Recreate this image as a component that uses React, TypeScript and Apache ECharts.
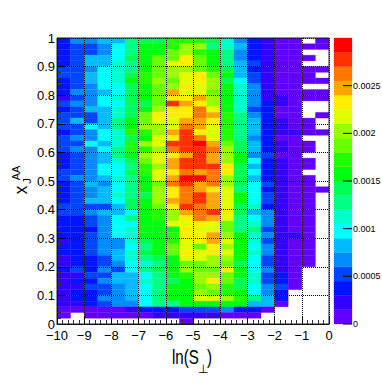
import React, { useEffect, useRef } from "react";
import * as echarts from "echarts";

const _ = null;
// bin contents in units of 1e-5, top row (x_J 0.98-1) first, ln(S) -10 .. 0 left to right
const binContents: (number | null)[][] = [
  [37,67,67,82,82,127,142,142,172,172,172,142,112,67,37,22,7,7,_,7],
  [37,52,52,67,97,127,157,157,172,202,202,127,112,82,37,22,7,7,7,7],
  [37,52,52,67,97,127,157,157,187,202,172,157,127,67,37,22,7,7,_,_],
  [37,52,82,82,97,142,157,187,187,232,187,157,127,67,37,22,7,7,7,_],
  [37,52,82,82,112,127,157,187,217,232,187,157,127,82,52,22,7,7,_,_],
  [52,52,67,97,112,127,157,187,202,202,187,172,142,82,37,22,7,7,7,7],
  [52,52,82,97,112,142,172,187,202,217,232,187,157,82,52,22,7,7,7,_],
  [37,52,82,97,112,157,172,202,187,217,232,202,142,97,52,22,7,7,7,7],
  [37,52,67,97,97,142,157,187,202,232,217,202,157,112,67,22,7,7,_,_],
  [37,67,67,82,97,142,157,187,247,217,217,187,157,112,67,22,7,7,7,7],
  [22,52,67,97,112,142,157,187,232,232,247,202,157,112,67,22,22,7,7,7],
  [52,67,67,97,97,142,142,187,277,247,232,202,157,112,67,37,22,7,_,_],
  [37,52,82,82,112,142,157,202,232,232,262,217,157,112,52,37,7,7,_,_],
  [52,52,52,82,112,142,187,232,232,232,262,247,172,127,67,37,7,7,_,7],
  [52,82,52,82,127,157,187,217,217,247,247,232,172,127,82,37,22,7,7,_],
  [52,52,97,82,127,157,202,202,217,262,247,217,172,127,82,37,22,7,7,_],
  [37,52,67,97,112,172,172,202,247,277,232,217,172,127,82,37,22,22,7,7],
  [52,67,67,97,112,142,157,217,232,277,262,217,172,127,67,37,7,7,_,_],
  [52,52,97,82,112,172,202,217,277,277,292,247,187,142,82,37,22,7,7,_],
  [52,67,67,97,127,172,172,202,262,277,277,262,202,142,82,37,22,7,7,_],
  [37,52,67,82,127,157,202,217,232,247,277,247,202,157,67,52,7,7,_,_],
  [37,52,67,82,112,142,187,217,247,277,277,247,202,157,97,37,22,7,7,_],
  [37,52,67,97,97,127,172,202,247,277,277,277,232,142,82,37,22,7,7,_],
  [52,52,67,97,97,142,172,217,232,262,247,262,232,142,97,37,22,7,_,_],
  [52,67,67,82,112,127,157,217,247,292,292,262,202,142,82,37,22,7,7,_],
  [37,52,82,67,97,127,157,187,262,277,247,262,202,142,97,52,22,7,7,_],
  [37,52,67,82,97,127,157,202,232,262,247,232,217,127,97,37,22,7,7,7],
  [37,52,67,82,112,127,142,202,232,262,277,247,217,157,97,52,22,7,7,_],
  [37,52,82,82,97,142,157,202,247,262,277,247,217,157,97,52,22,7,7,_],
  [52,52,52,52,82,142,157,187,232,277,262,247,217,142,112,37,22,7,7,_],
  [52,52,67,82,82,97,157,172,202,247,262,277,232,142,82,67,22,7,7,_],
  [37,37,52,67,97,127,157,172,202,232,262,247,217,127,97,67,22,7,7,_],
  [37,37,52,67,97,97,157,157,217,217,232,217,187,127,112,67,22,7,7,_],
  [37,37,37,67,97,112,157,157,157,232,217,217,187,127,127,52,22,7,7,_],
  [37,37,52,67,97,112,157,157,172,232,232,247,202,157,112,67,22,22,7,_],
  [22,37,52,67,67,112,142,157,172,217,232,247,217,157,112,52,22,7,7,_],
  [37,37,52,67,67,97,127,157,187,217,187,232,202,157,97,67,22,7,7,_],
  [37,37,52,67,82,112,142,157,187,232,217,232,217,157,112,67,22,7,7,_],
  [22,37,37,52,82,112,127,142,157,217,217,202,202,157,97,52,22,7,7,_],
  [22,37,37,52,67,97,112,127,157,187,187,202,187,142,97,52,22,7,7,_],
  [37,52,37,67,52,97,127,142,157,202,187,187,232,157,97,67,22,7,_,_],
  [22,22,52,52,82,82,97,127,157,172,202,202,187,157,112,52,37,7,_,_],
  [22,37,37,67,82,82,112,127,142,157,202,232,187,142,112,52,37,7,_,_],
  [22,22,52,52,67,82,97,127,157,157,187,202,172,142,97,67,52,7,_,_],
  [22,37,37,52,67,82,97,127,157,157,202,187,172,157,97,67,37,_,_,_],
  [22,37,37,67,67,82,97,127,157,157,217,217,202,172,127,82,37,_,_,_],
  [22,22,37,52,67,67,97,127,127,157,157,157,157,157,82,82,7,_,_,_],
  [7,7,7,7,7,22,37,37,37,52,52,52,67,37,37,7,_,_,_,_],
  [7,_,7,7,7,7,7,22,22,22,22,22,7,7,7,_,_,_,_,_],
  [_,_,_,_,_,_,_,_,_,7,_,_,_,_,_,_,_,_,_,_],
];

const palette = [
  "#6200ff","#3300ff","#0014ff","#0044ff","#008bff","#00bbff","#00fffc","#00ffcc","#00ff85","#00ff55",
  "#00ff0e","#22ff00","#69ff00","#99ff00","#e0ff00","#ffee00","#ffa700","#ff7700","#ff3000","#ff0000",
];
const colorTicks = [0, 0.0005, 0.001, 0.0015, 0.002, 0.0025];
const bandWidth = 0.00015;
const xBinWidth = 0.5;
const yBinWidth = 0.02;

const FONT = '"Liberation Sans", sans-serif';

const heatData: number[][] = [];
binContents.forEach((row, r) => {
  row.forEach((v, c) => {
    if (v !== null) {
      heatData.push([-10 + c * xBinWidth, 1 - (r + 1) * yBinWidth, v]);
    }
  });
});
const bandData = palette.map((_c, i) => [i]);
const tickData = colorTicks.map((v) => [v]);

function cell(params: any, api: any) {
  const x = api.value(0);
  const y = api.value(1);
  const v = api.value(2);
  const p0 = api.coord([x, y + yBinWidth]);
  const p1 = api.coord([x + xBinWidth, y]);
  const fill = palette[Math.min(19, Math.floor(v / 15))];
  return {
    type: "rect",
    shape: { x: p0[0], y: p0[1], width: p1[0] - p0[0], height: p1[1] - p0[1] },
    style: { fill, stroke: fill, lineWidth: 0.3 },
  };
}

function band(params: any, api: any) {
  const i = api.value(0);
  const p0 = api.coord([0, (i + 1) * bandWidth]);
  const p1 = api.coord([1, i * bandWidth]);
  return {
    type: "rect",
    shape: { x: p0[0], y: p0[1], width: p1[0] - p0[0], height: p1[1] - p0[1] },
    style: { fill: palette[i], stroke: palette[i], lineWidth: 0.3 },
  };
}

function colorTick(params: any, api: any) {
  const v = api.value(0);
  const p0 = api.coord([0.5, v]);
  const p1 = api.coord([1, v]);
  return {
    type: "line",
    shape: { x1: p0[0], y1: p0[1], x2: p1[0], y2: p1[1] },
    style: { stroke: "#000", lineWidth: 1 },
  };
}

const minusFmt = (v: number) => String(v).replace("-", "\u2212");

export default function App() {
  const ref = useRef<HTMLDivElement>(null);
  useEffect(() => {
    const chart = echarts.init(ref.current!, undefined, { renderer: "svg" });
    chart.setOption({
      animation: false,
      backgroundColor: "#fff",
      grid: [
        { left: 57, right: 53, top: 38, bottom: 58, show: true, borderColor: "#222", borderWidth: 1, backgroundColor: "transparent", z: 6, outerBoundsMode: "none" },
        { left: 334, width: 18, top: 38, bottom: 58, outerBoundsMode: "none" },
      ],
      xAxis: [
        {
          type: "value", gridIndex: 0, min: -10, max: 0, interval: 1, z: 5,
          axisLine: { show: true, onZero: false, lineStyle: { color: "#000" } },
          axisTick: { show: true, inside: true, length: 8, lineStyle: { color: "#000" } },
          minorTick: { show: true, splitNumber: 5, length: 4, lineStyle: { color: "#333" } },
          splitLine: { show: true, lineStyle: { color: "#000", type: "dotted", width: 1 } },
          axisLabel: { color: "#000", fontFamily: FONT, fontSize: 13, margin: 5, formatter: minusFmt, showMinLabel: true, showMaxLabel: true, hideOverlap: false },
        },
        { type: "value", gridIndex: 1, min: 0, max: 1, show: false },
      ],
      yAxis: [
        {
          type: "value", gridIndex: 0, min: 0, max: 1, interval: 0.1, z: 5,
          axisLine: { show: true, onZero: false, lineStyle: { color: "#000" } },
          axisTick: { show: true, inside: true, length: 8, lineStyle: { color: "#000" } },
          minorTick: { show: true, splitNumber: 5, length: 4, lineStyle: { color: "#333" } },
          splitLine: { show: true, lineStyle: { color: "#000", type: "dotted", width: 1 } },
          axisLabel: { color: "#000", fontFamily: FONT, fontSize: 13, margin: 2, hideOverlap: false },
        },
        {
          type: "value", gridIndex: 1, position: "right", min: 0, max: bandWidth * palette.length, interval: 0.0005, z: 5,
          axisLine: { show: false },
          axisTick: { show: false },
          splitLine: { show: false },
          axisLabel: { color: "#000", fontFamily: FONT, fontSize: 9, margin: 1, showMaxLabel: false, hideOverlap: false },
        },
      ],
      series: [
        { type: "custom", coordinateSystem: "cartesian2d", xAxisIndex: 0, yAxisIndex: 0, z: 1, clip: true, data: heatData, renderItem: cell, encode: { x: 0, y: 1 } },
        { type: "custom", coordinateSystem: "cartesian2d", xAxisIndex: 1, yAxisIndex: 1, z: 1, data: bandData, renderItem: band, encode: { y: 0 } },
        { type: "custom", coordinateSystem: "cartesian2d", xAxisIndex: 1, yAxisIndex: 1, z: 3, data: tickData, renderItem: colorTick, encode: { y: 0 } },
      ],
      graphic: [
        { type: "text", x: 172, y: 346, scaleX: 0.72, style: { text: "ln(S", font: `21px ${FONT}`, fill: "#000", align: "left", verticalAlign: "top" } },
        { type: "text", x: 198, y: 363, style: { text: "\u22A5", font: '12px "DejaVu Sans", sans-serif', fill: "#000", align: "left", verticalAlign: "top" } },
        { type: "text", x: 207, y: 346, scaleX: 0.72, style: { text: ")", font: `21px ${FONT}`, fill: "#000", align: "left", verticalAlign: "top" } },
        { type: "text", x: 21, y: 190, rotation: Math.PI / 2, scaleX: 0.9, style: { text: "x", font: `19px ${FONT}`, fill: "#000", align: "center", verticalAlign: "middle" } },
        { type: "text", x: 27, y: 181, rotation: Math.PI / 2, style: { text: "J", font: `11px ${FONT}`, fill: "#000", align: "center", verticalAlign: "middle" } },
        { type: "text", x: 16, y: 173, rotation: Math.PI / 2, style: { text: "AA", font: `11px ${FONT}`, fill: "#000", align: "center", verticalAlign: "middle" } },
      ],
    });
    return () => chart.dispose();
  }, []);
  return <div ref={ref} style={{ position: "fixed", left: 0, top: 0, width: 382, height: 382 }} />;
}
